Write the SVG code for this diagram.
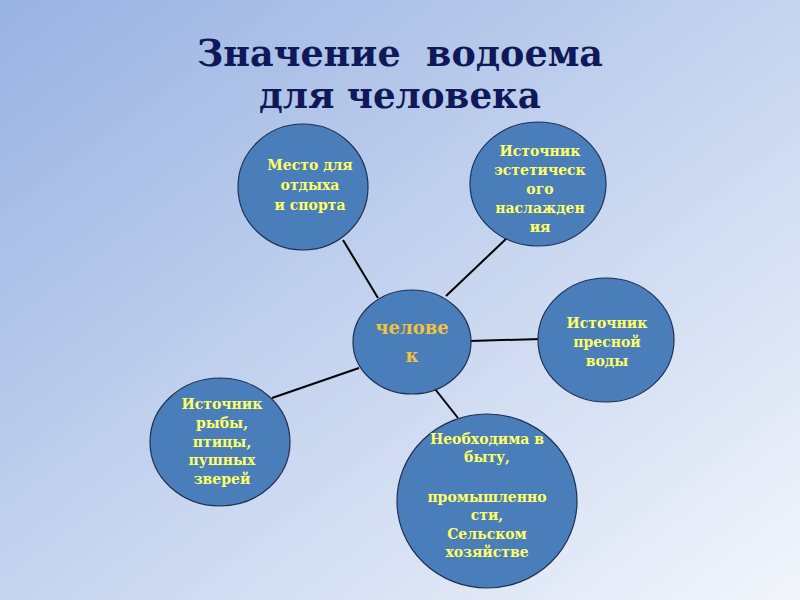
<svg xmlns="http://www.w3.org/2000/svg" width="800" height="600" viewBox="0 0 800 600">
<defs>
<linearGradient id="bg" x1="0" y1="0" x2="1" y2="1">
<stop offset="0" stop-color="#98b2e2"/>
<stop offset="1" stop-color="#f2f5fb"/>
</linearGradient>
<style>
.node{fill:#4a7ebb;stroke:#1f3050;stroke-width:1.2}
.t{font-family:"DejaVu Serif",serif;font-weight:bold;font-size:14px;fill:#ffff66;text-anchor:middle}
.c{font-family:"DejaVu Serif",serif;font-weight:bold;font-size:18px;fill:#f2c33a;text-anchor:middle}
.title{font-family:"DejaVu Serif",serif;font-weight:bold;font-size:37px;fill:#0f1858;text-anchor:middle}
.edge{stroke:#000;stroke-width:2;fill:none}
</style>
</defs>
<rect width="800" height="600" fill="url(#bg)"/>
<text class="title" x="400" y="66" textLength="406" lengthAdjust="spacingAndGlyphs" xml:space="preserve">Значение  водоема</text>
<text class="title" x="400" y="108" textLength="282" lengthAdjust="spacingAndGlyphs">для человека</text>
<g id="connectors">
<line class="edge" x1="343" y1="240" x2="378" y2="298"/>
<line class="edge" x1="446" y1="296" x2="507" y2="238"/>
<line class="edge" x1="470" y1="341" x2="541" y2="339"/>
<line class="edge" x1="272" y1="398" x2="359" y2="368"/>
<line class="edge" x1="435" y1="389" x2="458" y2="418"/>
</g>
<g id="n-sport">
<ellipse class="node" cx="303" cy="187" rx="65" ry="63"/>
<text class="t" x="310" y="170">Место для</text>
<text class="t" x="310" y="190">отдыха</text>
<text class="t" x="310" y="210">и спорта</text>
</g>
<g id="n-aesthetic">
<ellipse class="node" cx="538" cy="184" rx="68" ry="62"/>
<text class="t" x="540" y="156">Источник</text>
<text class="t" x="540" y="175">эстетическ</text>
<text class="t" x="540" y="194">ого</text>
<text class="t" x="540" y="213">наслажден</text>
<text class="t" x="540" y="232">ия</text>
</g>
<g id="n-human">
<ellipse class="node" cx="412" cy="342" rx="59" ry="52"/>
<text class="c" x="412" y="334">челове</text>
<text class="c" x="412" y="362">к</text>
</g>
<g id="n-water">
<ellipse class="node" cx="606" cy="340" rx="68" ry="62"/>
<text class="t" x="607" y="328">Источник</text>
<text class="t" x="607" y="347">пресной</text>
<text class="t" x="607" y="366">воды</text>
</g>
<g id="n-fish">
<ellipse class="node" cx="220" cy="442" rx="70" ry="64"/>
<text class="t" x="222" y="409">Источник</text>
<text class="t" x="222" y="428">рыбы,</text>
<text class="t" x="222" y="447">птицы,</text>
<text class="t" x="222" y="465">пушных</text>
<text class="t" x="222" y="484">зверей</text>
</g>
<g id="n-needs">
<ellipse class="node" cx="487" cy="501" rx="90" ry="87"/>
<text class="t" x="487" y="444">Необходима в</text>
<text class="t" x="487" y="462">быту,</text>
<text class="t" x="487" y="502">промышленно</text>
<text class="t" x="487" y="520">сти,</text>
<text class="t" x="487" y="539">Сельском</text>
<text class="t" x="487" y="557">хозяйстве</text>
</g>
</svg>
